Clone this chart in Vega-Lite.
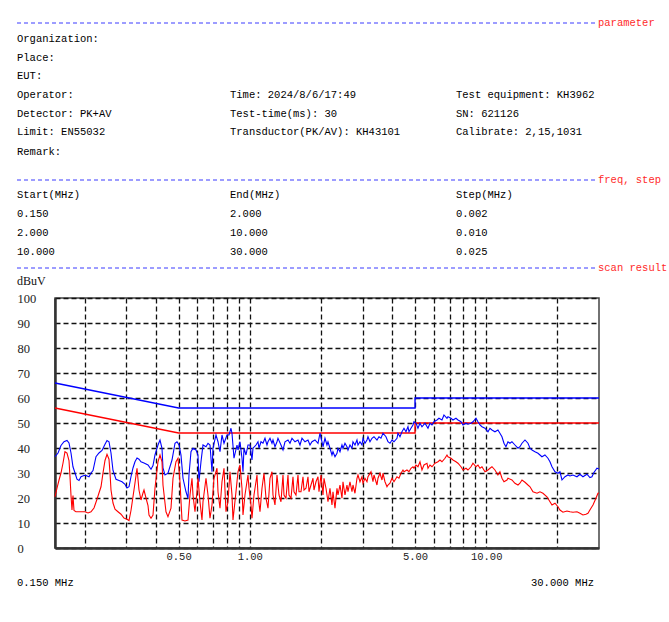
{
  "$schema": "https://vega.github.io/schema/vega-lite/v6.json",
  "background": "white",
  "padding": {"left": 16, "top": 18, "right": 0, "bottom": 0},
  "spacing": 4,
  "config": {"font": "Liberation Mono", "view": {"stroke": null}},
  "datasets": {
    "sep": [
      {"x0": 16, "x1": 596, "lx": 597, "r": 22, "lab": "parameter"},
      {"x0": 16, "x1": 596, "lx": 597, "r": 179, "lab": "freq, step"},
      {"x0": 16, "x1": 596, "lx": 597, "r": 267, "lab": "scan result"}
    ],
    "hdr": [
      {"t": "Organization:", "c": 16, "r": 38},
      {"t": "Place:", "c": 16, "r": 57},
      {"t": "EUT:", "c": 16, "r": 75},
      {"t": "Operator:", "c": 16, "r": 94},
      {"t": "Time: 2024/8/6/17:49", "c": 229, "r": 94},
      {"t": "Test equipment: KH3962", "c": 455, "r": 94},
      {"t": "Detector: PK+AV", "c": 16, "r": 113},
      {"t": "Test-time(ms): 30", "c": 229, "r": 113},
      {"t": "SN: 621126", "c": 455, "r": 113},
      {"t": "Limit: EN55032", "c": 16, "r": 131},
      {"t": "Transductor(PK/AV): KH43101", "c": 229, "r": 131},
      {"t": "Calibrate: 2,15,1031", "c": 455, "r": 131},
      {"t": "Remark:", "c": 16, "r": 151},
      {"t": "Start(MHz)", "c": 16, "r": 194},
      {"t": "End(MHz)", "c": 229, "r": 194},
      {"t": "Step(MHz)", "c": 455, "r": 194},
      {"t": "0.150", "c": 16, "r": 213},
      {"t": "2.000", "c": 229, "r": 213},
      {"t": "0.002", "c": 455, "r": 213},
      {"t": "2.000", "c": 16, "r": 232},
      {"t": "10.000", "c": 229, "r": 232},
      {"t": "0.010", "c": 455, "r": 232},
      {"t": "10.000", "c": 16, "r": 251},
      {"t": "30.000", "c": 229, "r": 251},
      {"t": "0.025", "c": 455, "r": 251}
    ],
    "qp": [
      {"i": 0, "f": 0.15, "v": 66}, {"i": 1, "f": 0.5, "v": 56}, {"i": 2, "f": 5, "v": 56}, {"i": 3, "f": 5, "v": 60}, {"i": 4, "f": 30, "v": 60}
    ],
    "al": [
      {"i": 0, "f": 0.15, "v": 56}, {"i": 1, "f": 0.5, "v": 46}, {"i": 2, "f": 5, "v": 46}, {"i": 3, "f": 5, "v": 50}, {"i": 4, "f": 30, "v": 50}
    ],
    "pk": [
      {"f":0.1500,"v":36.5},{"f":0.1545,"v":38},{"f":0.1590,"v":41},{"f":0.1637,"v":42.5},{"f":0.1686,"v":43},{"f":0.1719,"v":42},{"f":0.1753,"v":38},{"f":0.1787,"v":32.5},{"f":0.1823,"v":30},{"f":0.1858,"v":27.5},
      {"f":0.1895,"v":27},{"f":0.1932,"v":28.5},{"f":0.1990,"v":29},{"f":0.2029,"v":29},{"f":0.2089,"v":28.5},{"f":0.2130,"v":30},{"f":0.2172,"v":31},{"f":0.2236,"v":36.5},{"f":0.2302,"v":38},{"f":0.2371,"v":39},
      {"f":0.2441,"v":41.5},{"f":0.2489,"v":43},{"f":0.2538,"v":42.5},{"f":0.2588,"v":38},{"f":0.2639,"v":31},{"f":0.2717,"v":27.5},{"f":0.2798,"v":27},{"f":0.2881,"v":26.5},{"f":0.2966,"v":25.5},{"f":0.3024,"v":24},
      {"f":0.3084,"v":24.5},{"f":0.3144,"v":28.5},{"f":0.3206,"v":32},{"f":0.3269,"v":34.5},{"f":0.3334,"v":36},{"f":0.3399,"v":35.5},{"f":0.3466,"v":34.5},{"f":0.3569,"v":34},{"f":0.3711,"v":33.2},{"f":0.3821,"v":31.5},
      {"f":0.3896,"v":33},{"f":0.3972,"v":37.2},{"f":0.4090,"v":41.2},{"f":0.4171,"v":43.2},{"f":0.4253,"v":39.9},{"f":0.4294,"v":32},{"f":0.4379,"v":29.2},{"f":0.4508,"v":29.9},{"f":0.4688,"v":35.2},{"f":0.4827,"v":41.9},
      {"f":0.4921,"v":42.5},{"f":0.5018,"v":41.2},{"f":0.5117,"v":37.2},{"f":0.5218,"v":27.9},{"f":0.5372,"v":22.5},{"f":0.5478,"v":19.9},{"f":0.5531,"v":29.2},{"f":0.5640,"v":38.5},{"f":0.5751,"v":39.9},{"f":0.5922,"v":39.2},
      {"f":0.6038,"v":37.2},{"f":0.6097,"v":26.5},{"f":0.6217,"v":34.5},{"f":0.6340,"v":41.2},{"f":0.6528,"v":40.5},{"f":0.6656,"v":41.9},{"f":0.6787,"v":41.2},{"f":0.6921,"v":30.5},{"f":0.6988,"v":39.9},{"f":0.7195,"v":45.2},
      {"f":0.7337,"v":42.5},{"f":0.7481,"v":38.5},{"f":0.7628,"v":45.2},{"f":0.7779,"v":41.9},{"f":0.8009,"v":45.2},{"f":0.8167,"v":45.2},{"f":0.8327,"v":47.9},{"f":0.8409,"v":45.9},{"f":0.8574,"v":35.9},{"f":0.8828,"v":41.2},
      {"f":0.8915,"v":39.2},{"f":0.9090,"v":42.5},{"f":0.9269,"v":35.9},{"f":0.9360,"v":30.5},{"f":0.9451,"v":39.9},{"f":0.9637,"v":37.2},{"f":0.9826,"v":41.2},{"f":1.0020,"v":41.2},{"f":1.0217,"v":35.2},{"f":1.0317,"v":39.9},
      {"f":1.0623,"v":41.2},{"f":1.0832,"v":42.5},{"f":1.0938,"v":39.9},{"f":1.1153,"v":42.5},{"f":1.1373,"v":41.9},{"f":1.1596,"v":43.9},{"f":1.1824,"v":41.2},{"f":1.1940,"v":42.5},{"f":1.2175,"v":43.9},{"f":1.2414,"v":41.9},
      {"f":1.2536,"v":43.2},{"f":1.2782,"v":40.5},{"f":1.3034,"v":42.5},{"f":1.3161,"v":43.9},{"f":1.3551,"v":41.2},{"f":1.3818,"v":39.2},{"f":1.4089,"v":42.5},{"f":1.4507,"v":43.2},{"f":1.4792,"v":41.9},{"f":1.5083,"v":43.9},
      {"f":1.5531,"v":42.5},{"f":1.5991,"v":43.2},{"f":1.6306,"v":41.2},{"f":1.6627,"v":43.9},{"f":1.7119,"v":42.5},{"f":1.7627,"v":43.2},{"f":1.7974,"v":41.2},{"f":1.8327,"v":42.5},{"f":1.8870,"v":43.2},{"f":1.9430,"v":41.9},
      {"f":1.9812,"v":45.9},{"f":2.0202,"v":42.5},{"f":2.0400,"v":40.5},{"f":2.0800,"v":43.9},{"f":2.1209,"v":41.2},{"f":2.1417,"v":42.5},{"f":2.1838,"v":39.9},{"f":2.2268,"v":37.2},{"f":2.2486,"v":38.5},{"f":2.2928,"v":36.5},
      {"f":2.3379,"v":37.9},{"f":2.3608,"v":39.9},{"f":2.4072,"v":38.5},{"f":2.4546,"v":41.2},{"f":2.4787,"v":39.9},{"f":2.5273,"v":41.9},{"f":2.5770,"v":40.5},{"f":2.6023,"v":39.2},{"f":2.6535,"v":41.2},{"f":2.7057,"v":39.9},
      {"f":2.7321,"v":42.5},{"f":2.7858,"v":41.2},{"f":2.8406,"v":43.2},{"f":2.8684,"v":41.2},{"f":2.9249,"v":42.5},{"f":2.9824,"v":41.2},{"f":3.0116,"v":43.9},{"f":3.0708,"v":41.9},{"f":3.1312,"v":43.2},{"f":3.1619,"v":44.5},
      {"f":3.2241,"v":42.5},{"f":3.2875,"v":43.9},{"f":3.3522,"v":44.5},{"f":3.4515,"v":43.2},{"f":3.5194,"v":44.5},{"f":3.5886,"v":43.9},{"f":3.6592,"v":45.9},{"f":3.7676,"v":44.5},{"f":3.8417,"v":42.5},{"f":3.9173,"v":41.9},
      {"f":3.9944,"v":43.2},{"f":4.0729,"v":42.5},{"f":4.1937,"v":43.9},{"f":4.2348,"v":45.9},{"f":4.3181,"v":44.5},{"f":4.4030,"v":46.5},{"f":4.4897,"v":47.9},{"f":4.5779,"v":46.5},{"f":4.6679,"v":48.5},{"f":4.7136,"v":46.5},
      {"f":4.8064,"v":47.9},{"f":4.9010,"v":49.2},{"f":4.9490,"v":50.5},{"f":5.046,"v":49.9},{"f":5.145,"v":47.9},{"f":5.247,"v":49.9},{"f":5.350,"v":48.5},{"f":5.508,"v":49.9},{"f":5.672,"v":47.9},{"f":5.783,"v":49.9},
      {"f":5.897,"v":49.2},{"f":6.013,"v":50.5},{"f":6.191,"v":51.2},{"f":6.313,"v":51.9},{"f":6.500,"v":51.2},{"f":6.628,"v":53.2},{"f":6.825,"v":51.9},{"f":6.891,"v":52.5},{"f":7.096,"v":51.9},{"f":7.235,"v":51.2},
      {"f":7.450,"v":51.9},{"f":7.596,"v":51.2},{"f":7.822,"v":50.5},{"f":7.976,"v":49.2},{"f":8.212,"v":49.9},{"f":8.373,"v":49.5},{"f":8.622,"v":49.9},{"f":8.791,"v":50.5},{"f":9.052,"v":51.9},{"f":9.230,"v":50.5},
      {"f":9.411,"v":49.2},{"f":9.596,"v":48.5},{"f":9.881,"v":47.9},{"f":10.174,"v":46.5},{"f":10.374,"v":47.9},{"f":10.578,"v":47.2},{"f":10.89,"v":46.5},{"f":11.21,"v":47.2},{"f":11.43,"v":45.9},{"f":11.66,"v":44.5},
      {"f":11.89,"v":41.9},{"f":12.12,"v":40.5},{"f":12.36,"v":42.5},{"f":12.60,"v":41.9},{"f":12.85,"v":42.5},{"f":13.23,"v":41.2},{"f":13.63,"v":39.9},{"f":13.89,"v":40.5},{"f":14.17,"v":41.9},{"f":14.59,"v":43.2},
      {"f":15.02,"v":41.9},{"f":15.32,"v":39.9},{"f":15.62,"v":39.2},{"f":16.08,"v":38.5},{"f":16.56,"v":37.9},{"f":16.88,"v":37.2},{"f":17.21,"v":36.5},{"f":17.72,"v":37.2},{"f":18.25,"v":35.9},{"f":18.61,"v":34.5},
      {"f":18.98,"v":32.5},{"f":19.54,"v":30.5},{"f":20.12,"v":29.9},{"f":20.51,"v":30.5},{"f":20.92,"v":27.2},{"f":21.54,"v":28.5},{"f":22.17,"v":29.2},{"f":22.61,"v":28.8},{"f":23.28,"v":29.2},{"f":24.21,"v":28.5},
      {"f":24.92,"v":29.5},{"f":25.66,"v":28.5},{"f":26.68,"v":29.5},{"f":27.47,"v":28.2},{"f":28.01,"v":28.5},{"f":28.56,"v":30.2},{"f":29.41,"v":31.9},{"f":30,"v":31.6}
    ],
    "av": [
      {"f":0.1500,"v":20.5},{"f":0.1530,"v":24},{"f":0.1560,"v":27.2},{"f":0.1590,"v":30},{"f":0.1622,"v":34},{"f":0.1653,"v":38.5},{"f":0.1686,"v":38},{"f":0.1719,"v":35},{"f":0.1736,"v":28.5},{"f":0.1753,"v":21},
      {"f":0.1770,"v":15.2},{"f":0.1787,"v":21},{"f":0.1805,"v":15},{"f":0.1840,"v":14.5},{"f":0.1932,"v":14.5},{"f":0.2009,"v":14.5},{"f":0.2069,"v":14},{"f":0.2130,"v":14.5},{"f":0.2193,"v":16},{"f":0.2258,"v":19.5},
      {"f":0.2302,"v":22},{"f":0.2348,"v":24.5},{"f":0.2394,"v":30},{"f":0.2441,"v":35},{"f":0.2489,"v":37.5},{"f":0.2538,"v":35.5},{"f":0.2563,"v":30},{"f":0.2588,"v":23.2},{"f":0.2639,"v":18},{"f":0.2691,"v":15.5},
      {"f":0.2770,"v":14.5},{"f":0.2853,"v":13.5},{"f":0.2937,"v":12},{"f":0.3024,"v":11.5},{"f":0.3084,"v":11},{"f":0.3144,"v":15},{"f":0.3206,"v":20.5},{"f":0.3269,"v":26},{"f":0.3334,"v":31.9},{"f":0.3399,"v":23.2},
      {"f":0.3466,"v":19.2},{"f":0.3534,"v":22},{"f":0.3569,"v":23.2},{"f":0.3639,"v":20},{"f":0.3711,"v":17},{"f":0.3747,"v":13.2},{"f":0.3821,"v":11.9},{"f":0.3896,"v":13.2},{"f":0.3972,"v":23.9},{"f":0.4090,"v":34.5},
      {"f":0.4171,"v":37.2},{"f":0.4253,"v":34.5},{"f":0.4294,"v":25.2},{"f":0.4421,"v":14.5},{"f":0.4508,"v":12.5},{"f":0.4642,"v":15.9},{"f":0.4734,"v":27.9},{"f":0.4874,"v":34.5},{"f":0.4970,"v":35.9},{"f":0.5067,"v":26.5},
      {"f":0.5167,"v":11.2},{"f":0.5320,"v":10.8},{"f":0.5478,"v":11.2},{"f":0.5586,"v":21.2},{"f":0.5696,"v":27.9},{"f":0.5751,"v":21.2},{"f":0.5864,"v":14.5},{"f":0.5980,"v":22.5},{"f":0.6038,"v":27.9},{"f":0.6157,"v":18.5},
      {"f":0.6278,"v":11.2},{"f":0.6340,"v":18.5},{"f":0.6528,"v":27.9},{"f":0.6656,"v":21.2},{"f":0.6787,"v":11.9},{"f":0.6921,"v":17.2},{"f":0.7057,"v":27.9},{"f":0.7266,"v":31.9},{"f":0.7337,"v":22.5},{"f":0.7481,"v":15.9},
      {"f":0.7628,"v":26.5},{"f":0.7779,"v":31.9},{"f":0.7931,"v":14.5},{"f":0.8087,"v":18.5},{"f":0.8246,"v":30.5},{"f":0.8409,"v":21.2},{"f":0.8491,"v":11.2},{"f":0.8743,"v":22.5},{"f":0.8915,"v":30.5},{"f":0.9090,"v":33.2},
      {"f":0.9269,"v":23.9},{"f":0.9360,"v":13.2},{"f":0.9543,"v":21.2},{"f":0.9826,"v":29.2},{"f":0.9923,"v":23.9},{"f":1.0118,"v":17.2},{"f":1.0217,"v":11.9},{"f":1.0418,"v":21.2},{"f":1.0727,"v":29.2},{"f":1.0832,"v":21.2},
      {"f":1.1045,"v":14.5},{"f":1.1263,"v":23.9},{"f":1.1484,"v":29.9},{"f":1.1710,"v":19.9},{"f":1.1940,"v":15.9},{"f":1.2175,"v":27.9},{"f":1.2414,"v":30.5},{"f":1.2536,"v":21.2},{"f":1.2782,"v":17.2},{"f":1.3034,"v":29.2},
      {"f":1.3290,"v":21.2},{"f":1.3551,"v":18.5},{"f":1.3818,"v":29.2},{"f":1.3953,"v":21.2},{"f":1.4227,"v":19.9},{"f":1.4507,"v":29.2},{"f":1.4649,"v":21.2},{"f":1.4937,"v":19.9},{"f":1.5231,"v":28.5},{"f":1.5380,"v":22.5},
      {"f":1.5683,"v":21.2},{"f":1.5991,"v":29.2},{"f":1.6148,"v":22.5},{"f":1.6466,"v":22.5},{"f":1.6790,"v":28.5},{"f":1.6954,"v":23.2},{"f":1.7287,"v":23.9},{"f":1.7627,"v":28.5},{"f":1.7800,"v":22.5},{"f":1.8150,"v":25.2},
      {"f":1.8507,"v":27.9},{"f":1.8688,"v":23.2},{"f":1.9055,"v":26.5},{"f":1.9430,"v":28.5},{"f":1.9620,"v":22.5},{"f":2.0006,"v":29.2},{"f":2.0400,"v":21.2},{"f":2.0600,"v":27.9},{"f":2.1004,"v":23.9},{"f":2.1417,"v":18.5},
      {"f":2.1838,"v":23.9},{"f":2.2268,"v":17.2},{"f":2.2486,"v":22.5},{"f":2.2928,"v":15.9},{"f":2.3379,"v":23.9},{"f":2.3608,"v":21.2},{"f":2.4072,"v":25.2},{"f":2.4546,"v":19.9},{"f":2.4787,"v":26.5},{"f":2.5273,"v":21.2},
      {"f":2.5770,"v":25.2},{"f":2.6023,"v":22.5},{"f":2.6535,"v":26.5},{"f":2.7057,"v":22.5},{"f":2.7321,"v":25.2},{"f":2.7858,"v":21.9},{"f":2.8406,"v":27.9},{"f":2.8684,"v":29.2},{"f":2.9249,"v":26.5},{"f":2.9824,"v":28.5},
      {"f":3.0116,"v":25.9},{"f":3.0708,"v":27.9},{"f":3.1312,"v":26.5},{"f":3.1619,"v":28.5},{"f":3.2556,"v":30.5},{"f":3.3197,"v":26.5},{"f":3.3522,"v":29.2},{"f":3.4515,"v":25.2},{"f":3.4853,"v":27.9},{"f":3.5538,"v":29.9},
      {"f":3.6237,"v":27.2},{"f":3.6592,"v":29.9},{"f":3.7311,"v":26.5},{"f":3.8045,"v":24.5},{"f":3.8417,"v":25.2},{"f":3.9173,"v":25.9},{"f":3.9944,"v":27.9},{"f":4.0729,"v":26.5},{"f":4.1937,"v":28.5},{"f":4.2762,"v":27.9},
      {"f":4.3604,"v":29.9},{"f":4.4461,"v":31.2},{"f":4.4897,"v":30.5},{"f":4.6226,"v":31.2},{"f":4.7136,"v":30.5},{"f":4.8064,"v":31.9},{"f":4.9010,"v":32.5},{"f":4.9490,"v":31.9},{"f":5.046,"v":33.2},{"f":5.145,"v":32.5},
      {"f":5.247,"v":34.5},{"f":5.350,"v":31.2},{"f":5.455,"v":33.2},{"f":5.617,"v":33.9},{"f":5.672,"v":31.9},{"f":5.783,"v":33.2},{"f":5.897,"v":32.5},{"f":6.072,"v":33.9},{"f":6.252,"v":34.5},{"f":6.375,"v":35.2},
      {"f":6.500,"v":34.5},{"f":6.693,"v":35.9},{"f":6.825,"v":37.2},{"f":6.891,"v":36.5},{"f":7.096,"v":35.9},{"f":7.235,"v":35.2},{"f":7.450,"v":34.5},{"f":7.596,"v":33.9},{"f":7.822,"v":32.5},{"f":7.976,"v":31.2},
      {"f":8.212,"v":31.9},{"f":8.373,"v":31.2},{"f":8.622,"v":32.5},{"f":8.791,"v":33.9},{"f":9.052,"v":32.5},{"f":9.230,"v":33.2},{"f":9.411,"v":31.9},{"f":9.596,"v":32.5},{"f":9.881,"v":30.5},{"f":10.174,"v":31.2},
      {"f":10.374,"v":31.9},{"f":10.578,"v":32.5},{"f":10.89,"v":31.2},{"f":11.21,"v":29.2},{"f":11.43,"v":30.5},{"f":11.66,"v":27.9},{"f":11.89,"v":26.5},{"f":12.24,"v":27.2},{"f":12.36,"v":27.9},{"f":12.85,"v":27.2},
      {"f":13.23,"v":25.9},{"f":13.63,"v":25.2},{"f":13.89,"v":25.9},{"f":14.17,"v":27.2},{"f":14.59,"v":26.3},{"f":15.02,"v":25.2},{"f":15.32,"v":24.5},{"f":15.77,"v":22.5},{"f":16.40,"v":21.9},{"f":16.88,"v":22.5},
      {"f":17.38,"v":21.9},{"f":18.07,"v":20.5},{"f":18.61,"v":18.5},{"f":18.98,"v":17.2},{"f":19.54,"v":17.9},{"f":20.12,"v":16.5},{"f":20.51,"v":15.2},{"f":21.12,"v":14.3},{"f":21.96,"v":14.8},{"f":22.61,"v":14.5},
      {"f":23.28,"v":14.3},{"f":24.21,"v":14.5},{"f":24.92,"v":13.9},{"f":25.66,"v":13.2},{"f":26.42,"v":13.5},{"f":26.94,"v":13.9},{"f":27.74,"v":15.9},{"f":28.29,"v":17.2},{"f":29.12,"v":19.9},{"f":29.70,"v":21.9},{"f":30,"v":22}
    ]
  },
  "vconcat": [
    {
      "width": 544,
      "height": 258,
      "view": {"stroke": null},
      "layer": [
        {
          "data": {"name": "sep"},
          "mark": {"type": "rule", "color": "#3b3bff", "strokeWidth": 1, "strokeDash": [4, 3]},
          "encoding": {
            "x": {"field": "x0", "type": "quantitative", "scale": {"domain": [54, 598], "nice": false, "zero": false}, "axis": null},
            "x2": {"field": "x1"},
            "y": {"field": "r", "type": "quantitative", "scale": {"domain": [22, 280], "reverse": true, "nice": false, "zero": false}, "axis": null}
          }
        },
        {
          "data": {"name": "sep"},
          "mark": {"type": "text", "align": "left", "baseline": "middle", "fontSize": 10.5, "color": "#ff2a2a", "font": "Liberation Mono"},
          "encoding": {
            "x": {"field": "lx", "type": "quantitative"},
            "y": {"field": "r", "type": "quantitative"},
            "text": {"field": "lab"}
          }
        },
        {
          "data": {"name": "hdr"},
          "mark": {"type": "text", "align": "left", "baseline": "middle", "fontSize": 10.5, "color": "#000", "font": "Liberation Mono"},
          "encoding": {
            "x": {"field": "c", "type": "quantitative"},
            "y": {"field": "r", "type": "quantitative"},
            "text": {"field": "t"}
          }
        },
        {
          "data": {"values": [{"t": "dBuV", "c": 16, "r": 280}]},
          "mark": {"type": "text", "align": "left", "baseline": "middle", "fontSize": 12, "color": "#111", "font": "Liberation Serif"},
          "encoding": {
            "x": {"field": "c", "type": "quantitative"},
            "y": {"field": "r", "type": "quantitative"},
            "text": {"field": "t"}
          }
        }
      ]
    },
    {
      "width": 544,
      "height": 250,
      "view": {"stroke": "#444", "strokeWidth": 1.5},
      "encoding": {
        "x": {
          "field": "f", "type": "quantitative",
          "scale": {"type": "log", "domain": [0.15, 30], "nice": false},
          "axis": {
            "values": [0.2, 0.3, 0.4, 0.5, 0.6, 0.7, 0.8, 0.9, 1, 2, 3, 4, 5, 6, 7, 8, 9, 10, 20],
            "labelExpr": "indexof([0.5, 1, 5, 10], datum.value) >= 0 ? format(datum.value, '.2f') : ''",
            "title": null, "grid": true, "gridColor": "#111", "gridDash": [5, 3], "gridWidth": 1.3,
            "ticks": false, "tickSize": 0, "labelPadding": 3, "labelFont": "Liberation Mono", "labelFontSize": 10.5,
            "labelColor": "#222", "domainColor": "#333", "domainWidth": 2.5, "labelFlush": false, "labelOverlap": false
          }
        },
        "y": {
          "field": "v", "type": "quantitative",
          "scale": {"domain": [0, 100], "nice": false},
          "axis": {
            "values": [0, 10, 20, 30, 40, 50, 60, 70, 80, 90, 100],
            "title": null, "grid": true, "gridColor": "#111", "gridDash": [5, 3], "gridWidth": 1.3,
            "ticks": false, "tickSize": 0, "labelAlign": "left", "labelPadding": 38, "labelFont": "Liberation Serif", "labelFontSize": 12.5,
            "labelColor": "#222", "domainColor": "#333", "domainWidth": 2.5, "labelFlush": false, "labelOverlap": false
          }
        }
      },
      "layer": [
        {"data": {"name": "qp"}, "mark": {"type": "line", "color": "#0000ff", "strokeWidth": 1.4}, "encoding": {"order": {"field": "i"}}},
        {"data": {"name": "al"}, "mark": {"type": "line", "color": "#ff0000", "strokeWidth": 1.4}, "encoding": {"order": {"field": "i"}}},
        {"data": {"name": "pk"}, "mark": {"type": "line", "color": "#0000ff", "strokeWidth": 1.1}, "encoding": {}},
        {"data": {"name": "av"}, "mark": {"type": "line", "color": "#ff0000", "strokeWidth": 1.1}, "encoding": {}}
      ]
    },
    {
      "width": 544,
      "height": 20,
      "view": {"stroke": null},
      "data": {"values": [{"t": "0.150 MHz", "c": 16}, {"t": "30.000 MHz", "c": 530}]},
      "mark": {"type": "text", "align": "left", "baseline": "middle", "fontSize": 10.5, "color": "#000", "font": "Liberation Mono"},
      "encoding": {
        "x": {"field": "c", "type": "quantitative", "scale": {"domain": [54, 598], "nice": false, "zero": false}, "axis": null},
        "y": {"datum": 581, "type": "quantitative", "scale": {"domain": [565, 585], "reverse": true, "nice": false, "zero": false}, "axis": null},
        "text": {"field": "t"}
      }
    }
  ]
}
